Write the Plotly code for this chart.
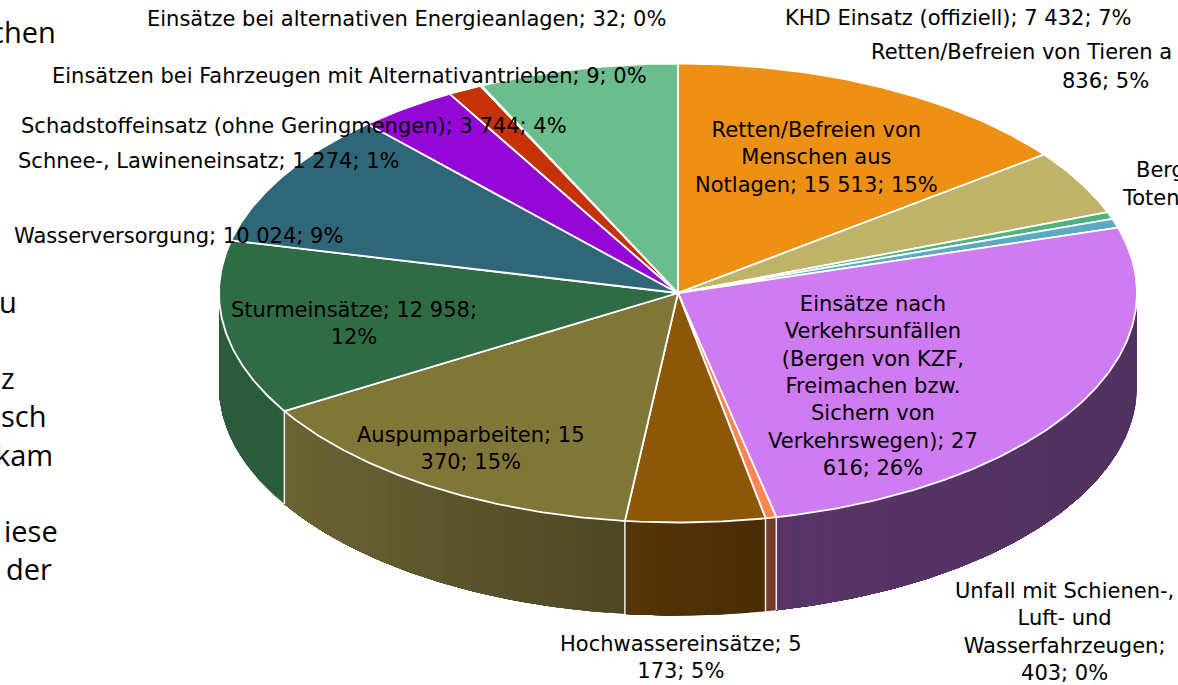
import numpy as np
import plotly.graph_objects as go

# --- data (clockwise from 12 o'clock) ---
categories = ["Retten/Befreien von Menschen aus Notlagen", "Retten/Befreien von Tieren", "Bergen (a)", "Bergen von Toten",
              "Einsätze nach Verkehrsunfällen", "Unfall mit Schienen-, Luft- und Wasserfahrzeugen", "Hochwassereinsätze",
              "Auspumparbeiten", "Sturmeinsätze", "Wasserversorgung", "Schadstoffeinsatz (ohne Geringmengen)",
              "Schnee-, Lawineneinsatz", "Einsätzen bei Fahrzeugen mit Alternativantrieben",
              "Einsätze bei alternativen Energieanlagen", "KHD Einsatz (offiziell)"]
values = [15513, 4836, 520, 680, 27616, 403, 5173, 15370, 12958, 10024, 3744, 1274, 9, 32, 7432]
colors = ["#EE9014", "#BFB36A", "#4DB37E", "#5FA8C4", "#CF7BF2", "#FF8552", "#8C5808",
          "#807638", "#2F6B45", "#2F6678", "#9308D4", "#C53208", "#C53208", "#6BBD8D", "#6BBD8D"]
side_left = ["#000000"] * 4 + ["#5A3468", "#733A28", "#57350A", "#6C6333", "#2A5C3C"] + ["#000000"] * 6
side_right = ["#000000"] * 4 + ["#503260", "#733A28", "#4A2D03", "#4C4623", "#2A5D3B"] + ["#000000"] * 6

labels = [
    ("Einsätze bei alternativen Energieanlagen; 32; 0%", 406, 19, "center"),
    ("Einsätzen bei Fahrzeugen mit Alternativantrieben; 9; 0%", 349, 76, "center"),
    ("Schadstoffeinsatz (ohne Geringmengen); 3 744; 4%", 294, 126, "center"),
    ("Schnee-, Lawineneinsatz; 1 274; 1%", 208, 161, "center"),
    ("Wasserversorgung; 10 024; 9%", 178, 236, "center"),
    ("KHD Einsatz (offiziell); 7 432; 7%", 958, 18, "center"),
    ("Retten/Befreien von Tieren a", 869, 52, "left"),
    ("836; 5%", 1105, 81, "center"),
    ("Berg", 1134, 170, "left"),
    ("Toten", 1120, 198, "left"),
    ("Retten/Befreien von<br>Menschen aus<br>Notlagen; 15 513; 15%", 816, 157, "center"),
    ("Einsätze nach<br>Verkehrsunfällen<br>(Bergen von KZF,<br>Freimachen bzw.<br>Sichern von<br>Verkehrswegen); 27<br>616; 26%", 873, 386, "center"),
    ("Sturmeinsätze; 12 958;<br>12%", 354, 323, "center"),
    ("Auspumparbeiten; 15<br>370; 15%", 471, 448, "center"),
    ("Hochwassereinsätze; 5<br>173; 5%", 681, 657, "center"),
    ("Unfall mit Schienen-,<br>Luft- und<br>Wasserfahrzeugen;<br>403; 0%", 1064, 632, "center"),
]
background_text = [("chen", 58, 31), ("u", 19, 301), ("z", 17, 377), ("sch", 49, 415),
                   ("kam", 55, 454), ("iese", 60, 530), ("der", 54, 568)]

# --- geometry of the tilted pie ---
W, H = 1178, 685
CX, CY, RX, RY, DEPTH = 678, 293, 459, 229.5, 93
LABEL_FONT = "DejaVu Sans"
LABEL_SIZE = 21


def ex(a):
    return CX + RX * np.sin(a)


def ey(a):
    return CY - RY * np.cos(a)


def hex2rgb(h):
    return np.array([int(h[i:i + 2], 16) for i in (1, 3, 5)], float)


def mix(c1, c2, t):
    r = hex2rgb(c1) * (1 - t) + hex2rgb(c2) * t
    return "rgb(%d,%d,%d)" % tuple(r.round())


v = np.array(values, float)
edges = np.concatenate([[0], np.cumsum(v)]) / v.sum() * 2 * np.pi

fig = go.Figure()

# side wall (only the part facing the viewer, pi/2 .. 3pi/2); each band paints from its
# own start to the end of the slice and the next band overlays it, so no seams appear
for i, cat in enumerate(categories):
    a0, a1 = max(edges[i], np.pi / 2), min(edges[i + 1], 3 * np.pi / 2)
    if a1 <= a0:
        continue
    n = max(1, int((a1 - a0) / np.radians(2.0)))
    cuts = np.linspace(a0, a1, n + 1)
    x0, x1 = ex(a0), ex(a1)
    for j in range(n):
        arc = np.linspace(cuts[j], a1, max(3, int((a1 - cuts[j]) / 0.01)))
        mid = ex((cuts[j] + cuts[j + 1]) / 2)
        col = mix(side_left[i], side_right[i], float((mid - min(x0, x1)) / max(abs(x1 - x0), 1)))
        fig.add_trace(go.Scatter(
            x=np.concatenate([ex(arc), ex(arc)[::-1]]),
            y=np.concatenate([ey(arc), ey(arc)[::-1] + DEPTH]),
            mode="lines", fill="toself", fillcolor=col, line=dict(width=0),
            hoverinfo="skip", showlegend=False))

# white seams between the walls
for a in edges:
    if np.pi / 2 < a < 3 * np.pi / 2:
        fig.add_trace(go.Scatter(x=[ex(a), ex(a)], y=[ey(a), ey(a) + DEPTH], mode="lines",
                                 line=dict(color="#EFEFEF", width=1.5), hoverinfo="skip", showlegend=False))

# top face
for i, cat in enumerate(categories):
    arc = np.linspace(edges[i], edges[i + 1], max(2, int((edges[i + 1] - edges[i]) / 0.01)))
    fig.add_trace(go.Scatter(
        x=np.concatenate([[CX], ex(arc), [CX]]),
        y=np.concatenate([[CY], ey(arc), [CY]]),
        mode="lines", fill="toself", fillcolor=colors[i], line=dict(color="#FFFFFF", width=1.8),
        name=cat, text=f"{cat}: {values[i]}", hoverinfo="text", showlegend=False))

ann = []
for t, x, y, al in labels:
    ann.append(dict(x=x, y=y, xref="x", yref="y", text=t, showarrow=False, xanchor=al, yanchor="middle",
                    align="center", font=dict(family=LABEL_FONT, size=LABEL_SIZE, color="#000000")))
for t, x, y in background_text:
    ann.append(dict(x=x, y=y, xref="x", yref="y", text=t, showarrow=False, xanchor="right", yanchor="middle",
                    font=dict(family="Open Sans", size=29, color="#000000")))

fig.update_layout(
    width=W, height=H, margin=dict(l=0, r=0, t=0, b=0),
    paper_bgcolor="#FFFFFF", plot_bgcolor="#FFFFFF", showlegend=False,
    xaxis=dict(range=[0, W], visible=False, fixedrange=True),
    yaxis=dict(range=[H, 0], visible=False, fixedrange=True),
    annotations=ann,
)
fig.write_html("out.html", config={"displayModeBar": False},
               post_script="document.body.style.margin='0';document.body.style.overflow='hidden';")
